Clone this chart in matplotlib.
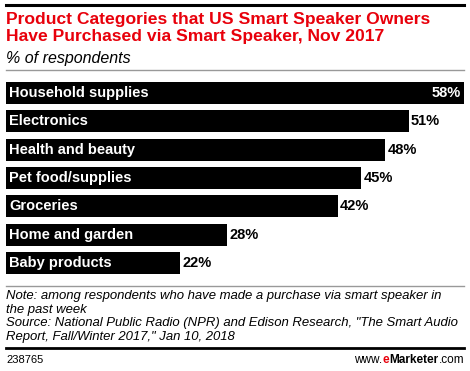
import matplotlib.pyplot as plt
from matplotlib.lines import Line2D

# data
categories = ["Household supplies", "Electronics", "Health and beauty", "Pet food/supplies",
              "Groceries", "Home and garden", "Baby products"]
values = [58, 51, 48, 45, 42, 28, 22]

title = "Product Categories that US Smart Speaker Owners\nHave Purchased via Smart Speaker, Nov 2017"
subtitle = "% of respondents"
note = ("Note: among respondents who have made a purchase via smart speaker in\n"
        "the past week\n"
        "Source: National Public Radio (NPR) and Edison Research, \"The Smart Audio\n"
        "Report, Fall/Winter 2017,\" Jan 10, 2018")
chart_id = "238765"

W, H = 470, 371
fig = plt.figure(figsize=(W / 100, H / 100), dpi=100)
plt.rcParams['font.family'] = ['Liberation Sans', 'DejaVu Sans']


def px(x, y):
    return x / W, 1 - y / H


def hline(y, lw, color):
    fig.add_artist(Line2D([6 / W, 464 / W], [1 - y / H] * 2, lw=lw, color=color,
                          transform=fig.transFigure))


hline(5, 2.2, "black")
hline(70, 1.0, "#999999")
hline(286, 1.0, "#999999")
hline(348, 2.0, "black")

fig.text(*px(6, 12), title, color="#e8000b", fontsize=12.6, fontweight="bold",
         va="top", ha="left", linespacing=1.15)
fig.text(*px(6, 51), subtitle, color="black", fontsize=11.5, style="italic", va="top")
fig.text(*px(6, 290), note, color="black", fontsize=9.45, style="italic", va="top",
         linespacing=1.18)
fig.text(*px(6, 360), chart_id, fontsize=8, va="center")

# footer brand
x = 350
parts = []
r = fig.canvas.get_renderer()
for s, c, w in [("www.", "black", "normal"), ("e", "#e8000b", "bold"),
                ("Marketer", "black", "bold"), (".com", "black", "normal")]:
    t = fig.text(x / W, 1 - 360 / H, s, fontsize=8.5, va="center", ha="left",
                 color=c, fontweight=w)
    parts.append(t)
    x += t.get_window_extent(r).width

# right align footer at 464
shift = 464 - x
for t in parts:
    pos = t.get_position()
    t.set_position((pos[0] + shift / W, pos[1]))

ax = fig.add_axes([6 / W, 1 - 274 / H, 458 / W, 192 / H])
ypos = list(range(len(categories)))
ax.barh(ypos, values, height=0.77, color="black")
ax.set_xlim(0, 58)
ax.set_ylim(len(categories) - 1 + 0.385, -0.385)
ax.axis("off")

for i, (cat, v) in enumerate(zip(categories, values)):
    ax.text(0.4, i, cat, color="white", fontsize=10.5, fontweight="bold", va="center")
    if v == max(values):
        ax.text(v - 0.4, i, f"{v}%", color="white", fontsize=10.5, fontweight="bold",
                va="center", ha="right")
    else:
        ax.text(v + 0.3, i, f"{v}%", color="black", fontsize=10.5, fontweight="bold",
                va="center", ha="left")

fig.savefig("out.png", dpi=100)
